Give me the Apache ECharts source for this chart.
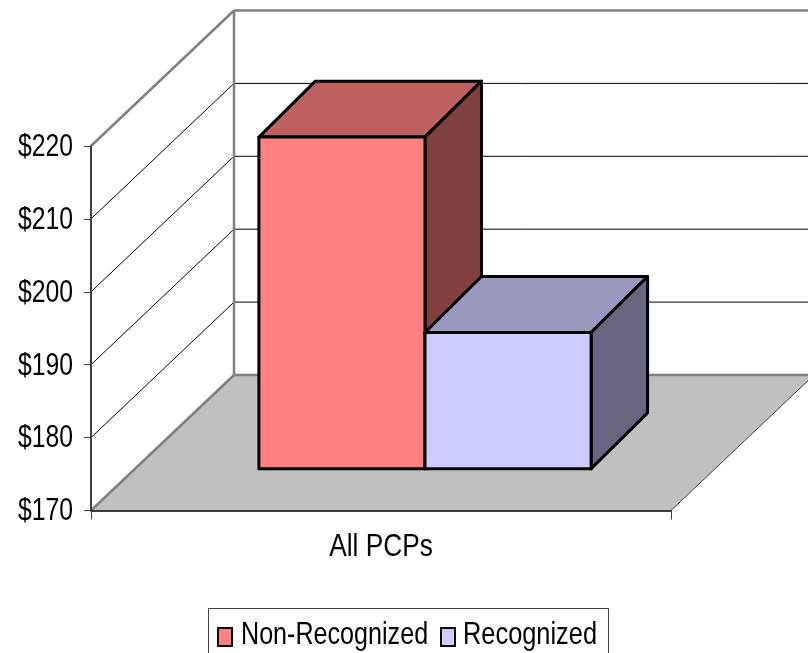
<!DOCTYPE html>
<html>
<head>
<meta charset="utf-8">
<title>All PCPs</title>
<script src="https://cdn.jsdelivr.net/npm/echarts@6/dist/echarts.min.js"></script>
<style>
    html, body { margin: 0; padding: 0; background: #fff; overflow: hidden; }
    #main { width: 808px; height: 653px; }
</style>
</head>
<body>
<div id="main"></div>
<script>
var categories = ['All PCPs'];
var yTicks = [170, 180, 190, 200, 210, 220];
var yTickLabels = ['$170', '$180', '$190', '$200', '$210', '$220'];
var seriesNames = ['Non-Recognized', 'Recognized'];
var nonRecognized = [215.5];
var recognized = [188.7];
var fontName = '"Liberation Sans", Arial, sans-serif';

// 图表的进深，墙面和地板都按这个偏移画
var depthX = 143;
var depthY = -135.5;
// 柱子在进深方向的位置（比例）
var barNear = 0.3077;
var barDepthX = 0.395;
var barDepthY = 0.413;
var barWidthRatio = 0.2864;

var myChart = echarts.init(document.getElementById('main'));

function poly(points, fill, stroke, lineWidth) {
    return {
        type: 'polygon',
        shape: { points: points },
        style: { fill: fill, stroke: stroke, lineWidth: lineWidth, lineJoin: 'round' }
    };
}

function line(x1, y1, x2, y2, color, width) {
    return {
        type: 'line',
        shape: { x1: x1, y1: y1, x2: x2, y2: y2 },
        style: { stroke: color, lineWidth: width, fill: null }
    };
}

// 原图的文字是被横向压窄的，这里用 scaleX 压
function squeezedText(x, y, str, align, scaleX) {
    return {
        type: 'text',
        x: x,
        y: y,
        scaleX: scaleX,
        style: {
            text: str,
            fontFamily: fontName,
            fontSize: 32,
            fill: '#000',
            align: align,
            verticalAlign: 'middle'
        }
    };
}

// 地板
function renderFloor(params, api) {
    var rect = params.coordSys;
    var y0 = api.coord([0, yTicks[0]])[1];
    var left = rect.x;
    var right = rect.x + rect.width;
    return {
        type: 'group',
        children: [
            poly([[left, y0], [right, y0], [right + depthX, y0 + depthY], [left + depthX, y0 + depthY]], '#C0C0C0', null, 0),
            line(right, y0, right + depthX, y0 + depthY, '#404040', 1),
            line(left, y0, left + depthX, y0 + depthY, '#808080', 2.5),
            line(left + depthX, y0 + depthY, right + depthX, y0 + depthY, '#808080', 2.5)
        ]
    };
}

// 网格线：左墙斜线 + 后墙横线
function renderGrid(params, api) {
    var rect = params.coordSys;
    var v = api.value(0);
    var y = api.coord([0, v])[1];
    var left = rect.x;
    var right = rect.x + rect.width;
    var isTop = v === yTicks[yTicks.length - 1];
    if (v === yTicks[0]) {
        return { type: 'group', children: [] };
    }
    var color = isTop ? '#808080' : '#000';
    var width = isTop ? 2.5 : 1;
    return {
        type: 'group',
        children: [
            line(left, y, left + depthX, y + depthY, color, width),
            line(left + depthX, y + depthY, right + depthX, y + depthY, color, width)
        ]
    };
}

// 后墙左边的竖线
function renderWallEdge(params, api) {
    var rect = params.coordSys;
    var yTop = api.coord([0, yTicks[yTicks.length - 1]])[1];
    var yBottom = api.coord([0, yTicks[0]])[1];
    return line(rect.x + depthX, yTop + depthY, rect.x + depthX, yBottom + depthY, '#808080', 2.5);
}

// y轴刻度文字
function renderYLabel(params, api) {
    var y = api.coord([0, api.value(0)])[1];
    return squeezedText(params.coordSys.x - 18, y + 1, yTickLabels[params.dataIndex], 'right', 0.773);
}

// x轴类目文字
function renderXLabel(params, api) {
    var pos = api.coord([api.value(0), yTicks[0]]);
    return squeezedText(pos[0], pos[1] + 37, categories[params.dataIndex], 'center', 0.82);
}

// 3D柱子：offsetIndex 0 在中心左边，1 在中心右边
function makeBarRender(offsetIndex, front, top, side) {
    return function (params, api) {
        var center = api.coord([api.value(0), api.value(1)]);
        var y0 = api.coord([api.value(0), yTicks[0]])[1];
        var w = api.size([1, 0])[0] * barWidthRatio;
        var x1 = center[0] + depthX * barNear + (offsetIndex - 1) * w;
        var x2 = x1 + w;
        var yTop = center[1] + depthY * barNear;
        var yBase = y0 + depthY * barNear;
        var dx = depthX * barDepthX;
        var dy = depthY * barDepthY;
        return {
            type: 'group',
            children: [
                poly([[x1, yTop], [x2, yTop], [x2 + dx, yTop + dy], [x1 + dx, yTop + dy]], top, '#000', 3),
                poly([[x2, yTop], [x2 + dx, yTop + dy], [x2 + dx, yBase + dy], [x2, yBase]], side, '#000', 3),
                poly([[x1, yTop], [x2, yTop], [x2, yBase], [x1, yBase]], front, '#000', 3)
            ]
        };
    };
}

var option = {
    animation: false,
    grid: { left: 91, top: 146, width: 580, height: 364.5 },
    xAxis: {
        type: 'category',
        data: categories,
        axisLine: { lineStyle: { color: '#000', width: 1.5 } },
        axisTick: { show: true, length: 9, lineStyle: { color: '#404040', width: 1 } },
        axisLabel: { show: false },
        z: 5
    },
    yAxis: {
        type: 'value',
        min: yTicks[0],
        max: yTicks[yTicks.length - 1],
        interval: 10,
        splitLine: { show: false },
        axisLine: { show: true, lineStyle: { color: '#404040', width: 2 } },
        axisTick: { show: true, length: 7, lineStyle: { color: '#404040', width: 1 } },
        axisLabel: { show: false },
        z: 5
    },
    // 图例：底边被画布裁掉，和原图一样
    graphic: [
        { type: 'rect', shape: { x: 208.5, y: 608.5, width: 400, height: 60 }, style: { fill: '#fff', stroke: '#404040', lineWidth: 1 } },
        { type: 'rect', shape: { x: 218, y: 628, width: 14, height: 18 }, style: { fill: '#FF8080', stroke: '#000', lineWidth: 2 } },
        { type: 'rect', shape: { x: 441, y: 628, width: 14, height: 18 }, style: { fill: '#CCCCFF', stroke: '#000', lineWidth: 2 } },
        squeezedText(241, 635, seriesNames[0], 'left', 0.785),
        squeezedText(463, 635, seriesNames[1], 'left', 0.793)
    ],
    series: [{
        type: 'custom',
        renderItem: renderFloor,
        data: [0],
        silent: true,
        z: 1
    }, {
        type: 'custom',
        renderItem: renderGrid,
        data: yTicks,
        encode: { y: 0 },
        silent: true,
        z: 1
    }, {
        type: 'custom',
        renderItem: renderWallEdge,
        data: [0],
        silent: true,
        z: 1
    }, {
        type: 'custom',
        renderItem: renderYLabel,
        data: yTicks,
        encode: { y: 0 },
        silent: true,
        z: 6
    }, {
        type: 'custom',
        renderItem: renderXLabel,
        data: categories.map(function (c, i) { return [i]; }),
        encode: { x: 0 },
        silent: true,
        z: 6
    }, {
        name: seriesNames[0],
        type: 'custom',
        renderItem: makeBarRender(0, '#FF8080', '#BF6060', '#804040'),
        data: nonRecognized.map(function (v, i) { return [i, v]; }),
        encode: { x: 0, y: 1 },
        z: 3
    }, {
        name: seriesNames[1],
        type: 'custom',
        renderItem: makeBarRender(1, '#CCCCFF', '#9999BF', '#666680'),
        data: recognized.map(function (v, i) { return [i, v]; }),
        encode: { x: 0, y: 1 },
        z: 4
    }]
};

myChart.setOption(option);
</script>
</body>
</html>
